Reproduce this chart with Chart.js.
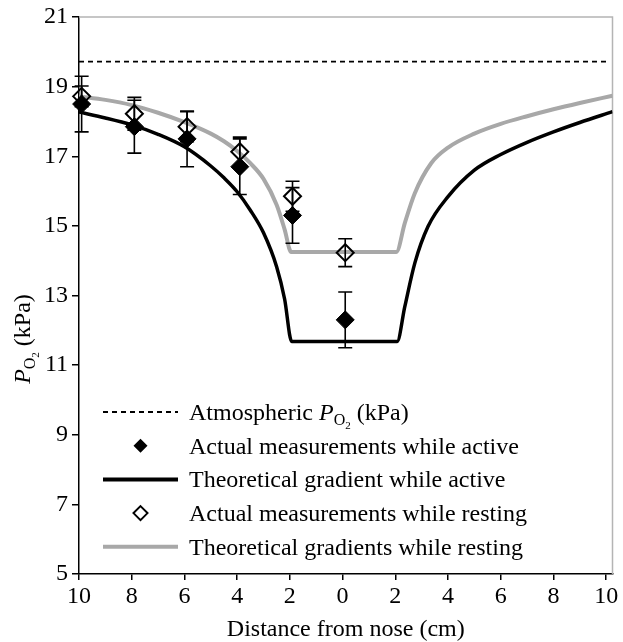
<!DOCTYPE html>
<html>
<head>
<meta charset="utf-8">
<script src="https://cdn.jsdelivr.net/npm/chart.js@4.4.1/dist/chart.umd.min.js"></script>
<style>
    html, body { margin: 0; padding: 0; background: #fff; }
    #wrap { width: 623px; height: 642px; position: relative; }
</style>
</head>
<body>
<div id="wrap"><canvas id="chart"></canvas></div>
<script>
// Axis ticks
const xTicks = [-10, -8, -6, -4, -2, 0, 2, 4, 6, 8, 10];
const yTicks = [5, 7, 9, 11, 13, 15, 17, 19, 21];

// Atmospheric PO2 (kPa)
const atmX = [-10, 10];
const atmY = [19.72, 19.72];

// Measurements (distance from nose, cm; left side plotted negative)
const sampleDist = [-9.9, -7.9, -5.9, -3.9, -1.9, 0.1];
const activeMean = [18.5, 17.85, 17.5, 16.7, 15.3, 12.3];
const activeErr = [0.8, 0.76, 0.8, 0.8, 0.8, 0.8];
const restMean = [18.72, 18.22, 17.85, 17.13, 15.85, 14.23];
const restErr = [0.3, 0.47, 0.43, 0.42, 0.43, 0.4];

// Theoretical gradients
const activeCurveX = [-10, -9, -8, -7, -6, -5, -4.5, -4, -3.5, -3, -2.5, -2.2, -1.93, 2.07, 2.36, 2.74, 3.24, 4, 5, 6, 7, 8, 9, 10.24];
const activeCurveY = [18.27, 18.1, 17.9, 17.63, 17.27, 16.72, 16.38, 15.98, 15.45, 14.8, 13.82, 12.9, 11.68, 11.68, 12.68, 13.93, 14.98, 15.84, 16.6, 17.05, 17.4, 17.7, 17.97, 18.28];
const restCurveX = [-10, -9, -8, -7, -6, -5, -4.5, -4, -3.5, -3, -2.5, -2.2, -1.95, 2.04, 2.36, 2.74, 3.36, 4, 5, 6, 7, 8, 9, 10.24];
const restCurveY = [18.72, 18.62, 18.47, 18.25, 17.98, 17.65, 17.43, 17.15, 16.8, 16.35, 15.6, 14.9, 14.25, 14.25, 15.08, 15.94, 16.8, 17.25, 17.65, 17.93, 18.15, 18.35, 18.53, 18.74];

const legendLabels = [
    'Atmospheric',
    'Actual measurements while active',
    'Theoretical gradient while active',
    'Actual measurements while resting',
    'Theoretical gradients while resting'
];

const SERIF = '"Liberation Serif", "Times New Roman", serif';
const FS = 24;
const GREY = '#a8a8a8';

const toPoints = (xs, ys) => xs.map((x, i) => ({ x: x, y: ys[i] }));

// Draws "P" with subscript "O2"; returns the x where it ends
const drawPO2 = (ctx, x, y, size) => {
    ctx.textAlign = 'left';
    ctx.textBaseline = 'alphabetic';
    ctx.font = 'italic ' + size + 'px ' + SERIF;
    ctx.fillText('P', x, y);
    x += ctx.measureText('P').width;
    ctx.font = Math.round(size * 0.66) + 'px ' + SERIF;
    ctx.fillText('O', x, y + size * 0.22);
    x += ctx.measureText('O').width;
    ctx.font = Math.round(size * 0.46) + 'px ' + SERIF;
    ctx.fillText('2', x, y + size * 0.36);
    x += ctx.measureText('2').width;
    return x;
};

const diamond = (ctx, x, y, r, filled) => {
    ctx.beginPath();
    ctx.moveTo(x, y - r);
    ctx.lineTo(x + r, y);
    ctx.lineTo(x, y + r);
    ctx.lineTo(x - r, y);
    ctx.closePath();
    if (filled) {
        ctx.fillStyle = '#000';
        ctx.fill();
    } else {
        ctx.strokeStyle = '#000';
        ctx.lineWidth = 2;
        ctx.stroke();
    }
};

// Error bars, drawn just before the marker dataset they belong to
const errorBars = {
    id: 'errorBars',
    beforeDatasetDraw(chart, args) {
        const ds = chart.data.datasets[args.index];
        if (!ds.errors) return;
        const { ctx, scales: { x, y } } = chart;
        ctx.save();
        ctx.strokeStyle = '#000';
        ctx.lineWidth = 1.6;
        ds.data.forEach((p, i) => {
            const px = x.getPixelForValue(p.x);
            const top = y.getPixelForValue(p.y + ds.errors[i]);
            const bot = y.getPixelForValue(p.y - ds.errors[i]);
            ctx.beginPath();
            ctx.moveTo(px, top); ctx.lineTo(px, bot);
            ctx.moveTo(px - 7, top); ctx.lineTo(px + 7, top);
            ctx.moveTo(px - 7, bot); ctx.lineTo(px + 7, bot);
            ctx.stroke();
        });
        ctx.restore();
    }
};

// Grey frame on top and right, y title and the in-plot legend
const decorations = {
    id: 'decorations',
    beforeDatasetsDraw(chart) {
        const { ctx, chartArea: a } = chart;
        ctx.save();
        ctx.strokeStyle = '#b4b4b4';
        ctx.lineWidth = 1.5;
        ctx.beginPath();
        ctx.moveTo(a.left, a.top);
        ctx.lineTo(a.right, a.top);
        ctx.lineTo(a.right, a.bottom);
        ctx.stroke();
        ctx.restore();
    },
    afterDraw(chart) {
        const { ctx, chartArea: a } = chart;
        ctx.save();
        ctx.fillStyle = '#000';

        // y axis title
        ctx.save();
        ctx.translate(30, 339);
        ctx.rotate(-Math.PI / 2);
        const tail = ' (kPa)';
        ctx.font = 'italic ' + FS + 'px ' + SERIF;
        let w = ctx.measureText('P').width;
        ctx.font = Math.round(FS * 0.66) + 'px ' + SERIF;
        w += ctx.measureText('O').width;
        ctx.font = Math.round(FS * 0.46) + 'px ' + SERIF;
        w += ctx.measureText('2').width;
        ctx.font = FS + 'px ' + SERIF;
        w += ctx.measureText(tail).width;
        const cx = drawPO2(ctx, -w / 2, 0, FS);
        ctx.font = FS + 'px ' + SERIF;
        ctx.fillText(tail, cx, 0);
        ctx.restore();

        // legend
        const x0 = a.left + 24, x1 = a.left + 99, tx = a.left + 110;
        const y0 = 412, dy = 33.7;
        legendLabels.forEach((label, i) => {
            const y = y0 + i * dy;
            ctx.save();
            if (i === 0) {
                ctx.strokeStyle = '#000';
                ctx.lineWidth = 1.8;
                ctx.setLineDash([5, 4]);
                ctx.beginPath(); ctx.moveTo(x0, y); ctx.lineTo(x1, y); ctx.stroke();
            } else if (i === 2 || i === 4) {
                ctx.strokeStyle = i === 2 ? '#000' : GREY;
                ctx.lineWidth = 4;
                ctx.beginPath(); ctx.moveTo(x0, y); ctx.lineTo(x1, y); ctx.stroke();
            } else {
                diamond(ctx, (x0 + x1) / 2, y, 7, i === 1);
            }
            ctx.restore();
            ctx.fillStyle = '#000';
            ctx.font = FS + 'px ' + SERIF;
            ctx.textAlign = 'left';
            ctx.textBaseline = 'alphabetic';
            const by = y + 8;
            if (i === 0) {
                ctx.fillText(label + ' ', tx, by);
                let ex = tx + ctx.measureText(label + ' ').width;
                ex = drawPO2(ctx, ex, by, FS);
                ctx.font = FS + 'px ' + SERIF;
                ctx.fillText(' (kPa)', ex, by);
            } else {
                ctx.fillText(label, tx, by);
            }
        });
        ctx.restore();
    }
};

const ctx = document.getElementById('chart');

new Chart(ctx, {
    type: 'scatter',
    data: {
        datasets: [
            {
                label: 'Actual measurements while active',
                data: toPoints(sampleDist, activeMean),
                errors: activeErr,
                pointStyle: 'rectRot',
                pointRadius: 9,
                backgroundColor: '#000',
                borderColor: '#000',
                borderWidth: 1,
                clip: false,
                order: 0
            },
            {
                label: 'Actual measurements while resting',
                data: toPoints(sampleDist, restMean),
                errors: restErr,
                pointStyle: 'rectRot',
                pointRadius: 8.5,
                backgroundColor: 'rgba(255,255,255,0)',
                borderColor: '#000',
                borderWidth: 2,
                clip: false,
                order: 1
            },
            {
                label: 'Theoretical gradient while active',
                data: toPoints(activeCurveX, activeCurveY),
                showLine: true,
                cubicInterpolationMode: 'monotone',
                borderColor: '#000',
                borderWidth: 3.5,
                pointRadius: 0,
                order: 2
            },
            {
                label: 'Theoretical gradients while resting',
                data: toPoints(restCurveX, restCurveY),
                showLine: true,
                cubicInterpolationMode: 'monotone',
                borderColor: GREY,
                borderWidth: 4,
                pointRadius: 0,
                order: 3
            },
            {
                label: 'Atmospheric PO2 (kPa)',
                data: toPoints(atmX, atmY),
                showLine: true,
                borderColor: '#000',
                borderWidth: 1.8,
                borderDash: [5, 4],
                pointRadius: 0,
                order: 4
            }
        ]
    },
    options: {
        responsive: true,
        maintainAspectRatio: false,
        animation: false,
        devicePixelRatio: 1,
        layout: { padding: { top: 17, right: 6, left: 0, bottom: 0 } },
        plugins: {
            legend: { display: false },
            tooltip: { enabled: false }
        },
        scales: {
            x: {
                type: 'linear',
                min: -10,
                max: 10.24,
                afterBuildTicks: scale => { scale.ticks = xTicks.map(v => ({ value: v })); },
                afterFit: scale => {
                    scale.height = 68;
                    scale.paddingLeft = 0;
                    scale.paddingRight = 0;
                },
                ticks: {
                    callback: v => Math.abs(v),
                    font: { family: SERIF, size: FS },
                    color: '#000',
                    padding: 2,
                    maxRotation: 0,
                    autoSkip: false
                },
                grid: { drawOnChartArea: false, drawTicks: true, tickLength: 6, color: '#000', lineWidth: 1.5 },
                border: { color: '#000', width: 1.5 },
                title: {
                    display: true,
                    text: 'Distance from nose (cm)',
                    font: { family: SERIF, size: FS, lineHeight: 1 },
                    color: '#000',
                    padding: 0
                }
            },
            y: {
                min: 5,
                max: 21,
                afterBuildTicks: scale => { scale.ticks = yTicks.map(v => ({ value: v })); },
                afterFit: scale => {
                    scale.width = 79;
                    scale.paddingTop = 0;
                    scale.paddingBottom = 0;
                },
                ticks: {
                    font: { family: SERIF, size: FS },
                    color: '#000',
                    padding: 4
                },
                grid: { drawOnChartArea: false, drawTicks: true, tickLength: 7, color: '#000', lineWidth: 1.5 },
                border: { color: '#000', width: 1.5 }
            }
        }
    },
    plugins: [errorBars, decorations]
});
</script>
</body>
</html>
